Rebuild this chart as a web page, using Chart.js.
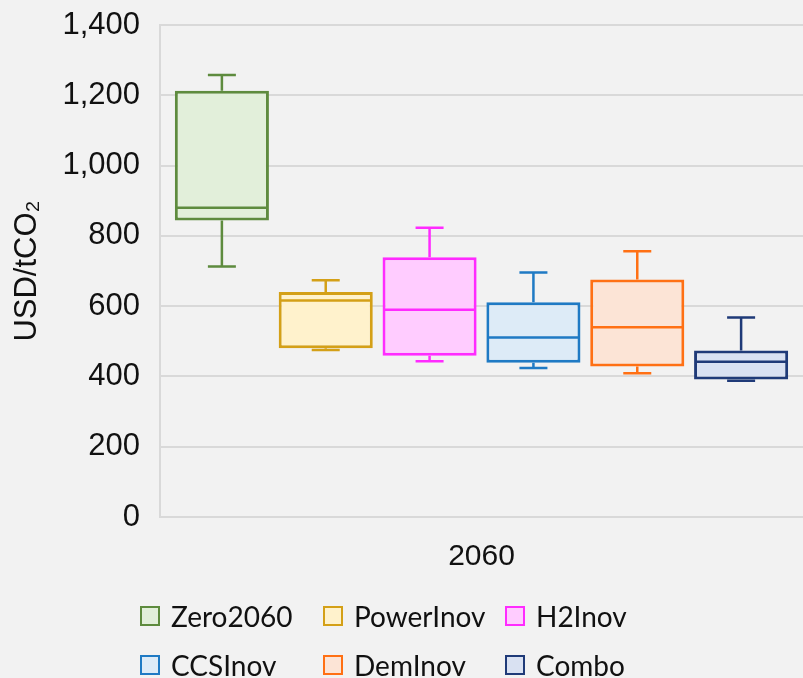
<!DOCTYPE html>
<html>
<head>
<meta charset="utf-8">
<script src="https://cdn.jsdelivr.net/npm/chart.js@4.4.0/dist/chart.umd.min.js"></script>
<style>
  html, body { margin: 0; padding: 0; background: #f2f2f2; }
  #wrap { position: relative; width: 803px; height: 678px; overflow: hidden; }
  #legend { position: absolute; left: 0; top: 0; width: 803px; height: 678px; pointer-events: none; }
  .item { position: absolute; display: flex; align-items: center; font-family: Lato, sans-serif; font-size: 28px; color: #111; white-space: nowrap; }
  .swatch { width: 16px; height: 16px; border: 2px solid; margin-right: 11px; }
</style>
</head>
<body>
<div id="wrap">
  <canvas id="boxChart" width="803" height="678"></canvas>
  <div id="legend"></div>
</div>
<script>
// Data
const categories = ['2060'];
const seriesNames = ['Zero2060', 'PowerInov', 'H2Inov', 'CCSInov', 'DemInov', 'Combo'];
const minVals    = [713, 475, 443, 424, 409, 388];
const q1Vals     = [844, 480, 459, 439, 428, 391];
const medianVals = [880, 616, 590, 511, 540, 442];
const q3Vals     = [1213, 640, 739, 611, 676, 474];
const maxVals    = [1258, 674, 823, 696, 756, 568];
const yMin = 0, yMax = 1400, yStep = 200;

// Colours
const borderColors = ['#5e8b3e', '#d4a017', '#ff2bff', '#1f7ac4', '#ff7014', '#1f3a78'];
const fillColors   = ['#e2efda', '#fff2cc', '#ffccff', '#ddebf7', '#fce4d6', '#d9e1f2'];

const datasets = seriesNames.map((name, i) => ({
    label: name,
    data: [[q1Vals[i], q3Vals[i]]],
    backgroundColor: fillColors[i],
    borderColor: borderColors[i],
    borderWidth: 3,
    borderSkipped: false,
    categoryPercentage: 0.969,
    barPercentage: 0.906
}));

// Draws medians and whiskers on top of the floating bars
const whiskerPlugin = {
    id: 'whiskers',
    afterDatasetsDraw(chart) {
        const c = chart.ctx;
        const y = chart.scales.y;
        chart.data.datasets.forEach((ds, i) => {
            const el = chart.getDatasetMeta(i).data[0];
            if (!el) return;
            const x = el.x, half = el.width / 2 - 1, cap = 14;
            const pMed = y.getPixelForValue(medianVals[i]);
            const pQ1 = y.getPixelForValue(q1Vals[i]);
            const pQ3 = y.getPixelForValue(q3Vals[i]);
            const pMin = y.getPixelForValue(minVals[i]);
            const pMax = y.getPixelForValue(maxVals[i]);
            c.save();
            c.strokeStyle = ds.borderColor;
            c.lineWidth = 2.5;
            c.beginPath();
            // median
            c.moveTo(x - half, pMed); c.lineTo(x + half, pMed);
            // upper whisker
            c.moveTo(x, pQ3); c.lineTo(x, pMax);
            c.moveTo(x - cap, pMax); c.lineTo(x + cap, pMax);
            // lower whisker
            c.moveTo(x, pQ1); c.lineTo(x, pMin);
            c.moveTo(x - cap, pMin); c.lineTo(x + cap, pMin);
            c.stroke();
            c.restore();
        });
    }
};

const chart = new Chart(document.getElementById('boxChart'), {
    type: 'bar',
    data: { labels: categories, datasets: datasets },
    options: {
        responsive: false,
        animation: false,
        layout: { padding: { top: 25, right: 0, bottom: 111, left: 0 } },
        plugins: {
            legend: { display: false },
            tooltip: { enabled: false }
        },
        scales: {
            x: {
                grid: { display: false, drawTicks: false },
                border: { display: true, color: '#d9d9d9', width: 2 },
                ticks: { color: '#111', font: { family: 'Liberation Sans, Arial', size: 30 }, padding: 22 },
                afterFit: s => { s.height = 50; }
            },
            y: {
                min: yMin,
                max: yMax,
                grid: { color: '#d9d9d9', lineWidth: 2, drawTicks: false },
                border: { display: true, color: '#d9d9d9', width: 2 },
                ticks: {
                    stepSize: yStep,
                    color: '#111',
                    padding: 20,
                    font: { family: 'Liberation Sans, Arial', size: 31 },
                    callback: v => v.toLocaleString('en-US')
                },
                title: {
                    display: true,
                    text: 'USD/tCO₂',
                    color: '#111',
                    font: { family: 'Liberation Sans, Arial', size: 31 },
                    padding: { top: 9, bottom: 0 }
                },
                afterFit: s => { s.width = 160; s.paddingTop = 0; s.paddingBottom = 0; }
            }
        }
    },
    plugins: [whiskerPlugin]
});

// Legend in a fixed 3-column grid, built from the chart's datasets
const legendCols = [140, 323, 505];
const legendRows = [616, 665];
const legendEl = document.getElementById('legend');
chart.data.datasets.forEach((ds, i) => {
    const item = document.createElement('div');
    item.className = 'item';
    item.style.left = legendCols[i % 3] + 'px';
    item.style.top = (legendRows[Math.floor(i / 3)] - 16) + 'px';
    item.style.height = '32px';
    const sw = document.createElement('span');
    sw.className = 'swatch';
    sw.style.borderColor = ds.borderColor;
    sw.style.background = ds.backgroundColor;
    const label = document.createElement('span');
    label.textContent = ds.label;
    item.appendChild(sw);
    item.appendChild(label);
    legendEl.appendChild(item);
});
</script>
</body>
</html>
